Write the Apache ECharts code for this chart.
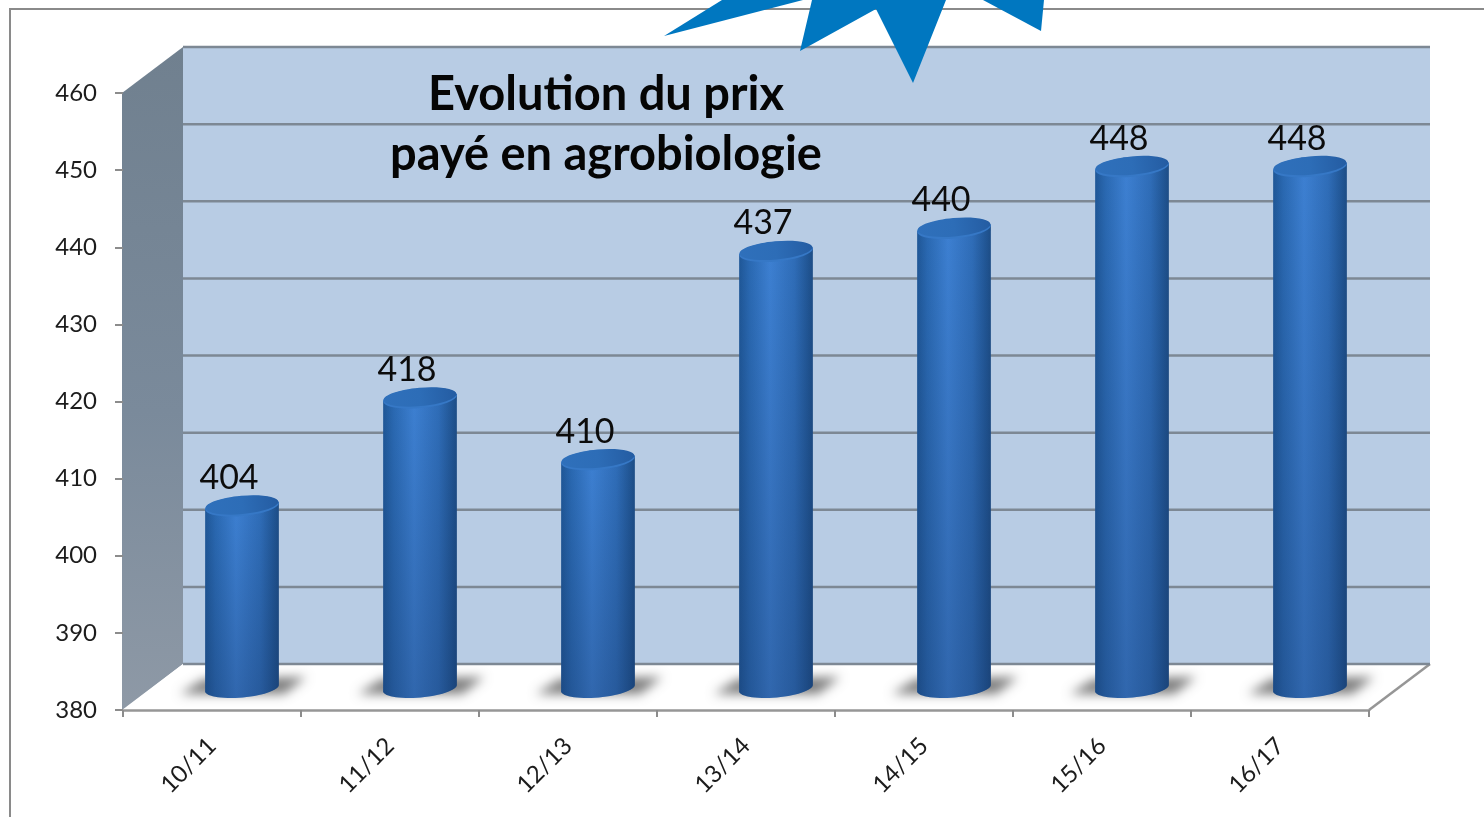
<!DOCTYPE html>
<html>
<head>
<meta charset="utf-8">
<style>html,body{margin:0;padding:0;background:#fff}#c{width:1484px;height:817px}</style>
<script src="https://cdn.jsdelivr.net/npm/echarts@6/dist/echarts.min.js"></script>
</head>
<body>
<div id="c"></div>
<script>
const categories = ['10/11','11/12','12/13','13/14','14/15','15/16','16/17'];
const values = [404,418,410,437,440,448,448];
const yTicks = [380,390,400,410,420,430,440,450,460];
const titleLines = ['Evolution du prix','payé en agrobiologie'];

const DX = 60, DY = -46;
const grad = (x,y,x2,y2,stops)=>({type:'linear',x,y,x2,y2,colorStops:stops.map(s=>({offset:s[0],color:s[1]}))});

function renderShell(params, api){
  const g = params.coordSys, L=g.x, R=g.x+g.width, T=g.y, B=g.y+g.height;
  return {type:'group', children:[
    {type:'rect', shape:{x:L+DX,y:T+DY,width:R-L+1,height:B-T-1}, style:{fill:'#b8cce4'}},
    {type:'polygon', shape:{points:[[L-1,T],[L+DX,T+DY],[L+DX,B+DY],[L-1,B]]},
      style:{fill:grad(0,0,0,1,[[0,'#70808f'],[0.55,'#7a8a9b'],[1,'#8e99a6']])}},
    {type:'polygon', shape:{points:[[L,B],[L+DX,B+DY],[R+DX+1,B+DY],[R,B]]}, style:{fill:'#ffffff'}},
    {type:'line', shape:{x1:R,y1:B,x2:R+DX+1,y2:B+DY}, style:{stroke:'#969696',lineWidth:2.5}}
  ]};
}
function renderGrid(params, api){
  const g = params.coordSys, p = api.coord([0, api.value(0)]);
  return {type:'line', shape:{x1:g.x+DX,y1:p[1]+DY,x2:g.x+g.width+DX+1,y2:p[1]+DY},
    style:{stroke:'#7d8894',lineWidth:2.5}};
}
function ellipsePts(cx,cy,rx,ry,tilt,from,to,n){
  const out=[];
  for(let k=0;k<=n;k++){
    const t=from+(to-from)*k/n, ex=rx*Math.cos(t), ey=ry*Math.sin(t);
    out.push([cx+ex*Math.cos(tilt)+ey*Math.sin(tilt), cy-ex*Math.sin(tilt)+ey*Math.cos(tilt)]);
  }
  return out;
}
function renderBar(params, api){
  const g = params.coordSys;
  const top = api.coord([api.value(0), api.value(1)]);
  const cx = top[0]+30, cyT = top[1]-19.5, cyB = g.y+g.height-22;
  const rx=37, ry=9.5, tilt=0.09, off=3000;
  const body = ellipsePts(cx,cyB,rx,ry,tilt,0,Math.PI,30)
    .concat(ellipsePts(cx,cyT,rx,ry,tilt,Math.PI,0,30).filter((p,i)=>i===0||i===30));
  return {type:'group', children:[
    {type:'polygon', shape:{points:[[cx-62-off,cyB+6],[cx-38-off,cyB-9],[cx+64-off,cyB-11],[cx+42-off,cyB+6]]},
      style:{fill:'#777',shadowBlur:11,shadowColor:'#7c7c7c',shadowOffsetX:off}},
    {type:'polygon', shape:{points:body},
      style:{fill:grad(0,0,1,0,[[0,'#1f5797'],[0.14,'#2a69b2'],[0.42,'#3d80d2'],[0.75,'#2f6db8'],[0.93,'#215695'],[1,'#1d4d86']])}},
    {type:'polygon', shape:{points:body},
      style:{fill:grad(0,0,0,1,[[0,'rgba(20,45,90,0)'],[1,'rgba(20,45,90,0.30)'] ])}},
    {type:'ellipse', shape:{cx:cx,cy:cyT+0.8,rx:rx,ry:ry+0.4}, rotation:tilt, originX:cx, originY:cyT+0.8, style:{fill:'#3678c6'}},
    {type:'ellipse', shape:{cx:cx,cy:cyT-0.5,rx:rx-0.5,ry:ry-0.3}, rotation:tilt, originX:cx, originY:cyT-0.5,
      style:{fill:grad(0,0,1,0,[[0,'#2f70bb'],[0.5,'#2d6db7'],[1,'#245ca2']])}},
    {type:'text', x:cx-13, y:cyT-27.5, style:{text:String(api.value(1)),
      font:'34px Lato', fill:'#0c0c0c', align:'center', verticalAlign:'middle'}}
  ]};
}

const chart = echarts.init(document.getElementById('c'));
chart.setOption({
  animation:false,
  backgroundColor:'#ffffff',
  title:{text:titleLines.join('\n'), left:601, top:60, textAlign:'center',
    textStyle:{fontFamily:'Lato',fontWeight:'bold',fontSize:47,lineHeight:60,color:'#050505'}},
  grid:{left:123,right:115,top:93,bottom:107,containLabel:false},
  xAxis:{type:'category',data:categories,boundaryGap:true,z:5,
    axisLine:{lineStyle:{color:'#969696',width:2.5}},
    axisTick:{show:true,alignWithLabel:false,length:7,lineStyle:{color:'#8c8c8c',width:2}},
    axisLabel:{rotate:45,interval:0,margin:32,fontFamily:'Lato',fontSize:24,color:'#1c1c1c'}},
  yAxis:{type:'value',min:yTicks[0],max:yTicks[yTicks.length-1],interval:10,z:5,
    axisLine:{show:false},
    axisTick:{show:true,length:8,lineStyle:{color:'#8c8c8c',width:2}},
    splitLine:{show:false},
    axisLabel:{margin:26,padding:[4,0,0,0],fontFamily:'Lato',fontSize:24,color:'#1c1c1c'}},
  series:[
    {type:'custom',name:'walls',z:1,silent:true,data:[[0]],renderItem:renderShell},
    {type:'custom',name:'grid',z:2,silent:true,data:yTicks.map(v=>[v]),renderItem:renderGrid},
    {type:'custom',name:'prix',z:3,data:categories.map((c,i)=>[i,values[i]]),encode:{x:0,y:1},renderItem:renderBar}
  ],
  graphic:[
    {type:'polyline',z:20,shape:{points:[[10,817],[10,9],[1484,9]]},style:{fill:'none',stroke:'#8a8a8a',lineWidth:2}},
    {type:'polygon',z:21,shape:{points:[[722,0],[664,36],[803,0]]},style:{fill:'#0077c0'}},
    {type:'polygon',z:21,shape:{points:[[812,0],[800,51],[876,9],[913,83],[946,0]]},style:{fill:'#0077c0'}},
    {type:'polygon',z:21,shape:{points:[[983,0],[1041,31],[1044,0]]},style:{fill:'#0077c0'}}
  ]
});
</script>
</body>
</html>
